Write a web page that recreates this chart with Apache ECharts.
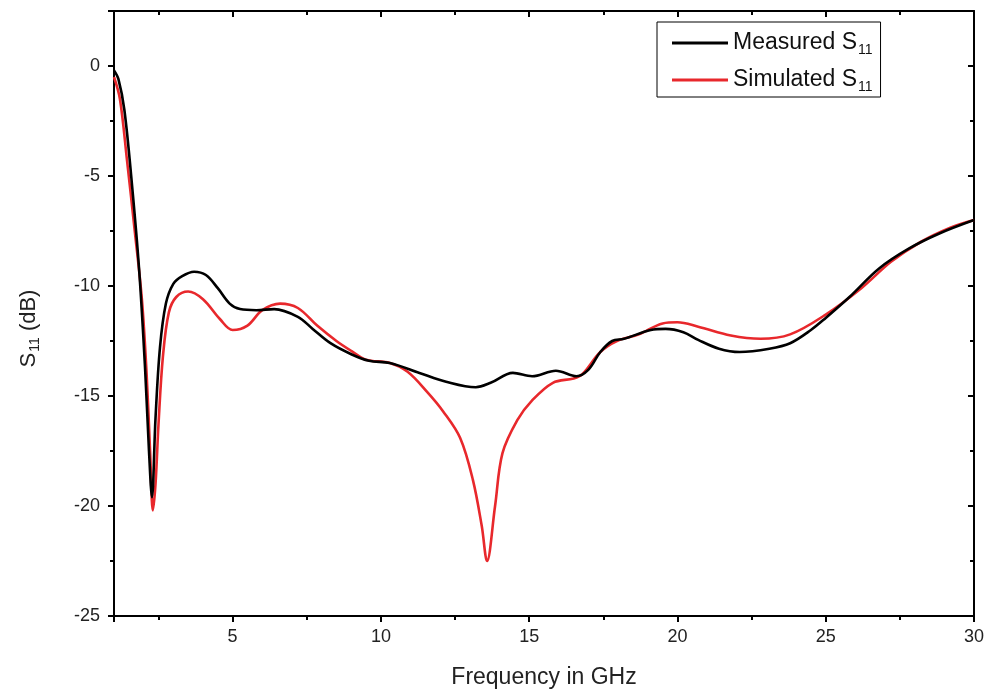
<!DOCTYPE html>
<html>
<head>
<meta charset="utf-8">
<script src="https://cdn.jsdelivr.net/npm/echarts@6/dist/echarts.min.js"></script>
<style>
  html, body { margin: 0; padding: 0; background: #fff; }
  #chart { width: 989px; height: 694px; }
</style>
</head>
<body>
<div id="chart"></div>
<script>
// measured S11 (black)
const measuredFreq = [1, 1.15, 1.35, 1.6, 1.85, 2.05, 2.18, 2.28, 2.4, 2.55, 2.75, 3.0, 3.3, 3.7, 4.1, 4.5, 4.9, 5.25, 5.8, 6.4, 7.2, 7.7, 8.3, 9.0, 9.6, 10.3, 11.3, 12.2, 13.2, 13.7, 14.45, 15.1, 15.9, 16.6, 17.0, 17.4, 17.8, 18.2, 19.1, 19.6, 20.2, 20.7, 21.4, 22.1, 23.1, 23.8, 24.5, 25, 25.8, 26.8, 27.8, 28.85, 30];
const measuredDb = [-0.2, -0.6, -2.0, -5.3, -9.3, -13.8, -17.5, -19.6, -16.0, -12.8, -10.8, -9.9, -9.55, -9.35, -9.5, -10.1, -10.8, -11.05, -11.1, -11.05, -11.4, -11.95, -12.6, -13.1, -13.4, -13.5, -13.95, -14.35, -14.6, -14.4, -13.95, -14.1, -13.85, -14.1, -13.8, -13.0, -12.5, -12.4, -12.0, -11.95, -12.1, -12.45, -12.85, -13.0, -12.85, -12.6, -12.0, -11.45, -10.5, -9.2, -8.3, -7.6, -7.0];

// simulated S11 (red)
const simulatedFreq = [1, 1.2, 1.44, 1.7, 1.94, 2.1, 2.22, 2.31, 2.4, 2.5, 2.65, 2.85, 3.1, 3.5, 4.0, 4.57, 5.0, 5.5, 6.0, 6.6, 7.2, 7.85, 8.5, 9.0, 9.5, 10.3, 10.9, 11.55, 12.1, 12.67, 13.1, 13.4, 13.58, 13.85, 14.1, 14.6, 15.1, 15.8, 16.5, 16.8, 17.4, 17.96, 18.7, 19.5, 20.0, 20.7, 21.8, 22.8, 23.8, 25, 26.2, 27.2, 28.2, 29.2, 30];
const simulatedDb = [-0.5, -1.5, -4.3, -7.5, -10.6, -14.0, -17.6, -20.2, -19.0, -16.3, -13.2, -11.2, -10.5, -10.25, -10.6, -11.5, -12.0, -11.8, -11.1, -10.8, -11.0, -11.8, -12.5, -12.95, -13.35, -13.5, -13.9, -14.8, -15.7, -16.9, -18.8, -20.9, -22.5, -20.0, -17.6, -16.1, -15.2, -14.4, -14.2, -14.0, -13.0, -12.5, -12.2, -11.7, -11.65, -11.85, -12.25, -12.4, -12.2, -11.3, -10.1, -8.9, -8.0, -7.35, -7.0];

const seriesNames = ["Measured S11", "Simulated S11"];

const pairs = (xs, ys) => xs.map((x, i) => [x, ys[i]]);

const chart = echarts.init(document.getElementById("chart"));

const font = "Liberation Sans, Arial, sans-serif";
const axisLine = { show: true, onZero: false, lineStyle: { color: "#000", width: 2 } };
const majorOut = { show: true, inside: false, length: 6, lineStyle: { width: 2, color: "#000" } };
const majorIn = { show: true, inside: true, length: 6, lineStyle: { width: 2, color: "#000" } };
const minor = { show: true, splitNumber: 2, length: 4, lineStyle: { width: 2, color: "#000" } };

const option = {
  animation: false,
  backgroundColor: "#fff",
  grid: { left: 114, right: 15, top: 11, bottom: 77, containLabel: false },
  legend: {
    data: seriesNames.map((n) => ({ name: n, icon: "rect" })),
    orient: "vertical",
    left: 657,
    top: 22,
    padding: [7, 8, 3, 15],
    itemGap: 9,
    itemWidth: 56,
    itemHeight: 3,
    borderColor: "#000",
    borderWidth: 1,
    formatter: (name) => name.replace("S11", "S{sub|11}"),
    textStyle: {
      fontFamily: font,
      fontSize: 23,
      lineHeight: 26,
      color: "#111",
      rich: { sub: { fontSize: 14, lineHeight: 26, fontFamily: font, color: "#111", padding: [14, 0, 0, 1] } },
    },
  },
  xAxis: [
    {
      type: "value",
      min: 1,
      max: 30,
      splitNumber: 6,
      name: "Frequency in GHz",
      nameLocation: "middle",
      nameGap: 50,
      nameTextStyle: { fontFamily: font, fontSize: 23, color: "#222" },
      axisLine: axisLine,
      axisTick: majorOut,
      minorTick: minor,
      axisLabel: { fontFamily: font, fontSize: 18, color: "#222", margin: 12, showMinLabel: false },
      splitLine: { show: false },
    },
    {
      type: "value",
      position: "top",
      min: 1,
      max: 30,
      splitNumber: 6,
      axisLine: axisLine,
      axisTick: majorIn,
      minorTick: minor,
      axisLabel: { show: false },
      splitLine: { show: false },
    },
  ],
  yAxis: [
    {
      type: "value",
      min: -25,
      max: 2.5,
      interval: 5,
      name: "S{sub|11} (dB)",
      nameLocation: "middle",
      nameGap: 72,
      nameRotate: 90,
      nameTextStyle: {
        fontFamily: font,
        fontSize: 22,
        color: "#222",
        padding: [0, 30, 0, 0],
        rich: { sub: { fontSize: 14, fontFamily: font, color: "#222", padding: [12, 0, 0, 1] } },
      },
      axisLine: axisLine,
      axisTick: majorOut,
      minorTick: minor,
      axisLabel: { fontFamily: font, fontSize: 18, color: "#222", margin: 14, showMaxLabel: false },
      splitLine: { show: false },
    },
    {
      type: "value",
      position: "right",
      min: -25,
      max: 2.5,
      interval: 5,
      axisLine: axisLine,
      axisTick: majorIn,
      minorTick: minor,
      axisLabel: { show: false },
      splitLine: { show: false },
    },
  ],
  series: [
    {
      name: seriesNames[0],
      type: "line",
      data: pairs(measuredFreq, measuredDb),
      showSymbol: false,
      smooth: 0.35,
      lineStyle: { color: "#000", width: 2.6 },
      itemStyle: { color: "#000" },
      z: 3,
    },
    {
      name: seriesNames[1],
      type: "line",
      data: pairs(simulatedFreq, simulatedDb),
      showSymbol: false,
      smooth: 0.35,
      lineStyle: { color: "#e8282c", width: 2.6 },
      itemStyle: { color: "#e8282c" },
      z: 2,
    },
  ],
};

chart.setOption(option);
</script>
</body>
</html>
